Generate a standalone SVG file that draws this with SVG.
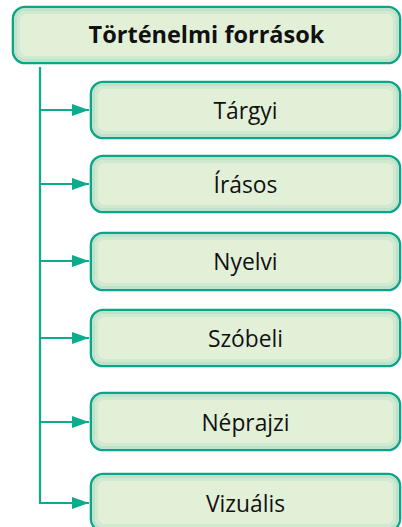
<svg xmlns="http://www.w3.org/2000/svg" width="402" height="527" viewBox="0 0 402 527">
<style>
.box{fill:#e2f0d8;stroke:#0ba68a;stroke-width:2.6}
.g1{fill:none;stroke:#bfe3ca;stroke-width:3}
.g2{fill:none;stroke:#d0e9d1;stroke-width:3}
.t{font-family:"Open Sans","Noto Sans","DejaVu Sans",sans-serif;font-size:22.8px;fill:#111;text-anchor:middle}
.title{font-weight:bold;font-size:23.5px}
.c{fill:none;stroke:#0bab8e;stroke-width:2.2}
</style>
<defs>
<marker id="ah" markerWidth="17" markerHeight="12" refX="17" refY="6" orient="auto" markerUnits="userSpaceOnUse">
<path d="M0,0 L17,6 L0,12 Z" fill="#0bab8e"/>
</marker>
</defs>
<g id="connectors">
<path class="c" d="M40,67 V503 H89" marker-end="url(#ah)"/>
<path class="c" d="M40,110 H89" marker-end="url(#ah)"/>
<path class="c" d="M40,184 H89" marker-end="url(#ah)"/>
<path class="c" d="M40,261 H89" marker-end="url(#ah)"/>
<path class="c" d="M40,338 H89" marker-end="url(#ah)"/>
<path class="c" d="M40,422 H89" marker-end="url(#ah)"/>
</g>
<g id="root">
<rect class="box" x="13" y="7" width="387" height="56" rx="12"/>
<rect class="g1" x="15.5" y="9.5" width="382" height="51" rx="10"/>
<rect class="g2" x="18.5" y="12.5" width="376" height="45" rx="8"/>
<text class="t title" x="206.5" y="43">Történelmi források</text>
</g>
<g id="n1">
<rect class="box" x="91" y="82" width="309" height="56" rx="12"/>
<rect class="g1" x="93.5" y="84.5" width="304" height="51" rx="10"/>
<rect class="g2" x="96.5" y="87.5" width="298" height="45" rx="8"/>
<text class="t" x="245.5" y="119">Tárgyi</text>
</g>
<g id="n2">
<rect class="box" x="91" y="156" width="309" height="56" rx="12"/>
<rect class="g1" x="93.5" y="158.5" width="304" height="51" rx="10"/>
<rect class="g2" x="96.5" y="161.5" width="298" height="45" rx="8"/>
<text class="t" x="245.5" y="193">Írásos</text>
</g>
<g id="n3">
<rect class="box" x="91" y="233" width="309" height="57" rx="12"/>
<rect class="g1" x="93.5" y="235.5" width="304" height="52" rx="10"/>
<rect class="g2" x="96.5" y="238.5" width="298" height="46" rx="8"/>
<text class="t" x="245.5" y="270">Nyelvi</text>
</g>
<g id="n4">
<rect class="box" x="91" y="310" width="309" height="56" rx="12"/>
<rect class="g1" x="93.5" y="312.5" width="304" height="51" rx="10"/>
<rect class="g2" x="96.5" y="315.5" width="298" height="45" rx="8"/>
<text class="t" x="245.5" y="347">Szóbeli</text>
</g>
<g id="n5">
<rect class="box" x="91" y="393" width="309" height="57" rx="12"/>
<rect class="g1" x="93.5" y="395.5" width="304" height="52" rx="10"/>
<rect class="g2" x="96.5" y="398.5" width="298" height="46" rx="8"/>
<text class="t" x="245.5" y="431">Néprajzi</text>
</g>
<g id="n6">
<rect class="box" x="91" y="474" width="309" height="57" rx="12"/>
<rect class="g1" x="93.5" y="476.5" width="304" height="52" rx="10"/>
<rect class="g2" x="96.5" y="479.5" width="298" height="46" rx="8"/>
<text class="t" x="245.5" y="512">Vizuális</text>
</g>
</svg>
